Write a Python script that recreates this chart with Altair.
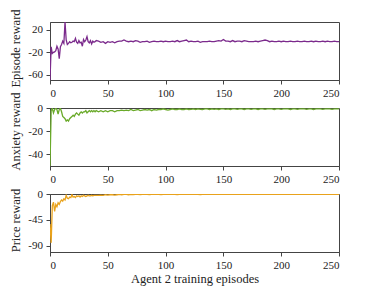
import altair as alt
import pandas as pd

episodes = list(range(0, 41)) + list(range(42, 251, 2))

episode_reward = [
    -69, -10, -22, -20, -19, -17, -9, -14, -31, -10,
    -6, 0, -4, 34, 2, -6, -4, -1, -3, -2,
    0, -1, 5, -2, -4, 1, -3, -2, -9, 3,
    -1, 2, 8, -1, -3, 1, -5, 0, -2, -1,
    1,
    0, -2, -1, -4, -1, -2, -1, -3, -1, 0,
    0, 2, 0, -1, 0, -1, 1, 0, -2, -1,
    -1, 0, -2, -1, 0, -1, -1, 0, -1, 0,
    -1, -1, 0, -1, 1, -1, 0, 1, 2, -1,
    0, -1, -1, 0, -2, -1, -1, -1, 0, -1,
    -1, 0, 1, 0, 3, 0, 0, -1, 1, -1,
    0, 0, -1, 1, 0, -1, -1, -1, 0, -1,
    0, 1, 2, 1, -1, 0, -1, -1, 0, -1,
    0, -1, -1, 0, -1, -1, 0, -1, -1, 0,
    -1, -1, 0, -1, 0, -1, -1, 0, -1, 0,
    -1, -1, 0, -1, -1,
]

anxiety_reward = [
    -50, -2, 0, -4, -1, 0, -1, -5, -1, 0,
    -3, -7, -8, -9, -11, -10, -11, -9, -8, -7,
    -6, -7, -5, -4, -5, -6, -4, -3, -4, -3,
    -3, -2, -4, -3, -2, -3, -2, -3, -2, -3,
    -2,
    -3, -2, -3, -2, -3, -2, -2, -3, -2, -2,
    -1.5, -2, -1.5, -2, -1, -2, -1.5, -1, -2, -1.5,
    -1, -1.5, -1, -2, -1, -1.5, -1, -1, -0.5, -1,
    -1.5, -1, -0.5, -1, -1, -0.5, -1, -1, -0.5, -1,
    -0.8, -0.5, -1, -0.5, -0.8, -1, -0.5, -0.5, -1, -0.5,
    -0.8, -0.5, -1, -0.5, -0.5, -0.8, -0.5, -1, -0.5, -0.5,
    -0.8, -0.5, -0.5, -1, -0.5, -0.5, -0.8, -0.5, -0.5, -1,
    -0.5, -0.5, -0.8, -0.5, -0.5, -0.5, -1, -0.5, -0.5, -0.8,
    -0.5, -0.5, -0.5, -1, -0.5, -0.5, -0.8, -0.5, -0.5, -0.5,
    -0.8, -0.5, -0.5, -1, -0.5, -0.5, -0.5, -0.8, -0.5, -0.5,
    -0.5, -0.8, -0.5, -0.5, -0.5,
]

price_reward = [
    -52, -85, -20, -14, -30, -18, -22, -15, -18, -13,
    -10, -12, -8, -10, -2, -7, -8, -5, -6, -1,
    -5, -4, -6, -3, -4, -3, -5, -3, -4, -2,
    -3, -4, -3, -2, -3, -3, -2, -3, -2, -2,
    -2,
    -2, -1.5, -2, -1, -1.5, -1, -1, -1.5, -1, -0.5,
    -1, -0.5, -0.5, -1, -0.5, -0.8, -0.5, -0.3, -0.8, -0.5,
    -0.5, -0.3, -0.8, -0.5, -0.5, -0.3, -0.5, -0.8, -0.3, -0.5,
    -0.5, -0.3, -0.5, -0.5, -0.8, -0.3, -0.5, -0.3, -0.5, -0.5,
    -0.3, -0.5, -0.5, -0.3, -0.8, -0.5, -0.3, -0.5, -0.3, -0.5,
    -0.5, -0.3, -0.5, -0.3, -0.5, -0.5, -0.3, -0.5, -0.3, -0.5,
    -0.3, -0.5, -0.5, -0.3, -0.5, -0.3, -0.5, -0.3, -0.5, -0.3,
    -0.5, -0.3, -0.5, -0.3, -0.3, -0.5, -0.3, -0.5, -0.3, -0.3,
    -0.5, -0.3, -0.3, -0.5, -0.3, -0.3, -0.5, -0.3, -0.3, -0.3,
    -0.5, -0.3, -0.3, -0.3, -0.5, -0.3, -0.3, -0.3, -0.5, -0.3,
    -0.3, -0.3, -0.5, -0.3, -0.3,
]

x_ticks = [0, 50, 100, 150, 200, 250]
FONT = "Liberation Serif"
FRAME = "#444444"


def panel(values, color, title, domain, ticks, title_y, xtitle):
    df = pd.DataFrame({"ep": episodes, "v": values})
    xkw = dict(values=x_ticks, labelExpr="toString(datum.value)", title=xtitle)
    return (
        alt.Chart(df)
        .mark_line(color=color, strokeWidth=1.3, clip=True)
        .encode(
            x=alt.X("ep:Q", scale=alt.Scale(domain=[0, 250], nice=False), axis=alt.Axis(**xkw)),
            y=alt.Y(
                "v:Q",
                scale=alt.Scale(domain=domain, nice=False, zero=False),
                axis=alt.Axis(
                    values=ticks,
                    title=title,
                    titleX=-28,
                    titleY=title_y,
                    labelExpr="toString(datum.value)",
                ),
            ),
        )
        .properties(width=289, height=58)
    )


p1 = panel(episode_reward, "#7B2A8C", "Episode reward", [-69, 34], [20, -20, -60], 26, None)
p2 = panel(anxiety_reward, "#6AAA2A", "Anxiety reward", [-50, 0.3], [0, -20, -40], 23, None)
p3 = panel(price_reward, "#E9A21B", "Price reward", [-101, 0.3], [0, -45, -90], 26,
           "Agent 2 training episodes")

chart = (
    alt.vconcat(p1, p2, p3, spacing=28, bounds="flush")
    .properties(padding={"left": 0, "top": 0, "right": 5, "bottom": 5})
    .configure_view(stroke=FRAME, strokeWidth=1)
    .configure_axis(
        grid=False,
        domainColor=FRAME,
        tickColor=FRAME,
        tickSize=4,
        labelFont=FONT,
        titleFont=FONT,
        labelFontSize=11,
        titleFontSize=12.5,
        labelColor="#222222",
        titleColor="#222222",
        titleFontWeight="normal",
        labelPadding=3.5,
        titlePadding=2,
    )
)

chart.save("out.html", embed_options={"renderer": "svg", "actions": False})
